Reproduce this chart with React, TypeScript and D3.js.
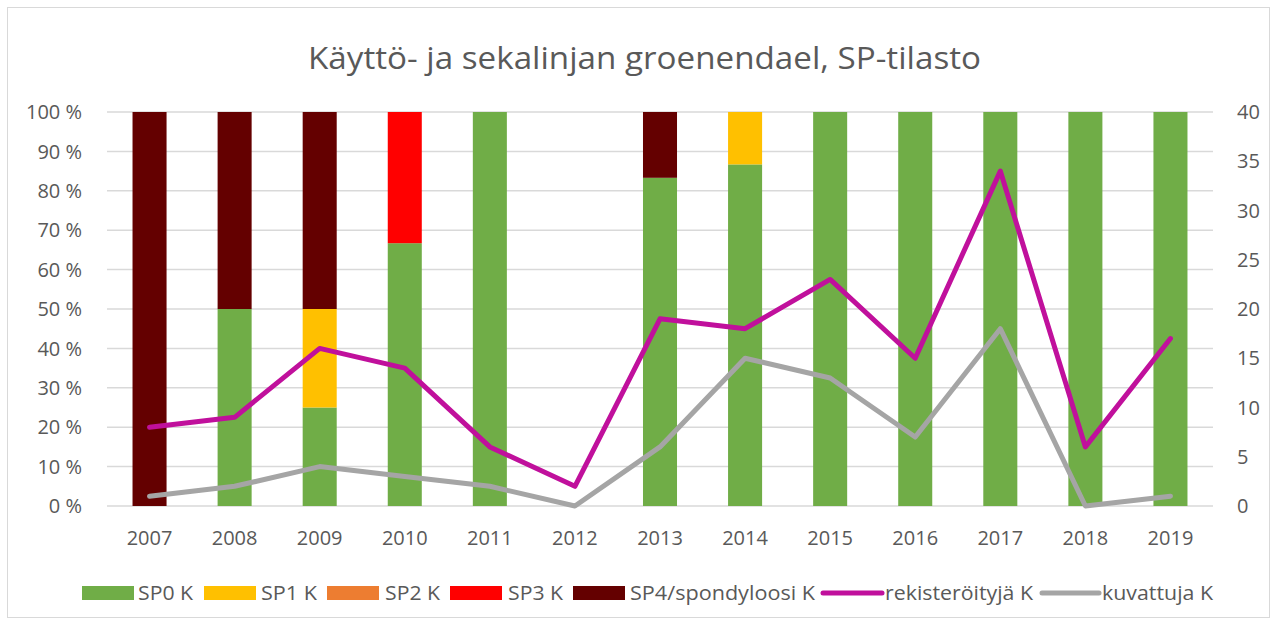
import React from "react";
import * as d3 from "d3";

const years = ["2007","2008","2009","2010","2011","2012","2013","2014","2015","2016","2017","2018","2019"];
const sp0 = [0, 50, 25, 66.7, 100, 0, 83.3, 86.7, 100, 100, 100, 100, 100];
const sp1 = [0, 0, 25, 0, 0, 0, 0, 13.3, 0, 0, 0, 0, 0];
const sp2 = [0, 0, 0, 0, 0, 0, 0, 0, 0, 0, 0, 0, 0];
const sp3 = [0, 0, 0, 33.3, 0, 0, 0, 0, 0, 0, 0, 0, 0];
const sp4 = [100, 50, 50, 0, 0, 0, 16.7, 0, 0, 0, 0, 0, 0];
const rekisteroityja = [8, 9, 16, 14, 6, 2, 19, 18, 23, 15, 34, 6, 17];
const kuvattuja = [1, 2, 4, 3, 2, 0, 6, 15, 13, 7, 18, 0, 1];
const leftTicks = [0, 10, 20, 30, 40, 50, 60, 70, 80, 90, 100];
const rightTicks = [0, 5, 10, 15, 20, 25, 30, 35, 40];
const barKeys = ["SP0 K", "SP1 K", "SP2 K", "SP3 K", "SP4/spondyloosi K"];
const barColors = ["#70ad47", "#ffc000", "#ed7d31", "#ff0000", "#640000"];
const lineNames = ["rekisteröityjä K", "kuvattuja K"];
const lineColors = ["#c0109c", "#a5a5a5"];
const title = "Käyttö- ja sekalinjan groenendael, SP-tilasto";

const FONT = "'Open Sans', 'DejaVu Sans', sans-serif";
const TXT = "#595959";

export default function App() {
  const W = 1277, H = 625;
  const left = 107, right = 1213, top = 112, bottom = 506;
  const x = d3.scaleBand().domain(years).range([left, right]).paddingInner(0.6).paddingOuter(0.3);
  const xc = (y: string) => (x(y) as number) + x.bandwidth() / 2;
  const yL = d3.scaleLinear().domain([0, 100]).range([bottom, top]);
  const yR = d3.scaleLinear().domain([0, 40]).range([bottom, top]);

  const rows = years.map((yr, i) => ({ year: yr, "SP0 K": sp0[i], "SP1 K": sp1[i], "SP2 K": sp2[i], "SP3 K": sp3[i], "SP4/spondyloosi K": sp4[i] }));
  const stacked = d3.stack<any>().keys(barKeys)(rows);

  const lineGen = d3.line<number>().x((_, i) => xc(years[i])).y((v) => yR(v));

  const legendY = 593;
  const legendItems = [
    { type: "rect", color: barColors[0], label: barKeys[0], sx: 82, tx: 138, tw: 55 },
    { type: "rect", color: barColors[1], label: barKeys[1], sx: 204, tx: 261, tw: 56 },
    { type: "rect", color: barColors[2], label: barKeys[2], sx: 327, tx: 385, tw: 55 },
    { type: "rect", color: barColors[3], label: barKeys[3], sx: 450, tx: 508, tw: 55 },
    { type: "rect", color: barColors[4], label: barKeys[4], sx: 573, tx: 630, tw: 185 },
    { type: "line", color: lineColors[0], label: lineNames[0], sx: 823, tx: 885, tw: 148 },
    { type: "line", color: lineColors[1], label: lineNames[1], sx: 1042, tx: 1102, tw: 111 },
  ];

  return (
    <svg width={W} height={H} style={{ position: "absolute", left: 0, top: 0, background: "#fff" }}>
      <rect x={7.5} y={7.5} width={1262} height={610} fill="#fff" stroke="#d9d9d9" strokeWidth={1} />
      <text x={(308 + 981) / 2} y={69} textAnchor="middle" fontFamily={FONT} fontSize={31} fill={TXT} textLength={673} lengthAdjust="spacingAndGlyphs">{title}</text>

      {leftTicks.map((t) => (
        <line key={"g" + t} x1={left} x2={right} y1={yL(t)} y2={yL(t)} stroke="#d9d9d9" strokeWidth={1.5} />
      ))}
      {leftTicks.map((t) => (
        <text key={"l" + t} x={82} y={yL(t)} dy="0.36em" textAnchor="end" fontFamily={FONT} fontSize={20} fill={TXT}>{t + " %"}</text>
      ))}
      {rightTicks.map((t) => (
        <text key={"r" + t} x={1237} y={yR(t)} dy="0.36em" textAnchor="start" fontFamily={FONT} fontSize={20} fill={TXT}>{t}</text>
      ))}
      {years.map((yr) => (
        <text key={"x" + yr} x={xc(yr)} y={545} textAnchor="middle" fontFamily={FONT} fontSize={20} fill={TXT}>{yr}</text>
      ))}

      {stacked.map((s, si) => (
        <g key={s.key} fill={barColors[si]}>
          {s.map((d, i) => {
            const h = yL(d[0]) - yL(d[1]);
            if (h <= 0) return null;
            return <rect key={i} x={x(years[i])} y={yL(d[1])} width={x.bandwidth()} height={h} />;
          })}
        </g>
      ))}

      <path d={lineGen(kuvattuja) || ""} fill="none" stroke={lineColors[1]} strokeWidth={5} strokeLinejoin="round" strokeLinecap="round" />
      <path d={lineGen(rekisteroityja) || ""} fill="none" stroke={lineColors[0]} strokeWidth={5} strokeLinejoin="round" strokeLinecap="round" />

      {legendItems.map((it) => (
        <g key={it.label}>
          {it.type === "rect" ? (
            <rect x={it.sx} y={legendY - 7} width={52} height={14} fill={it.color} />
          ) : (
            <line x1={it.sx} x2={it.tx - 3} y1={legendY} y2={legendY} stroke={it.color} strokeWidth={5} strokeLinecap="round" />
          )}
          <text x={it.tx} y={legendY} dy="0.36em" fontFamily={FONT} fontSize={20} fill={TXT} textLength={it.tw} lengthAdjust="spacingAndGlyphs">{it.label}</text>
        </g>
      ))}
    </svg>
  );
}
